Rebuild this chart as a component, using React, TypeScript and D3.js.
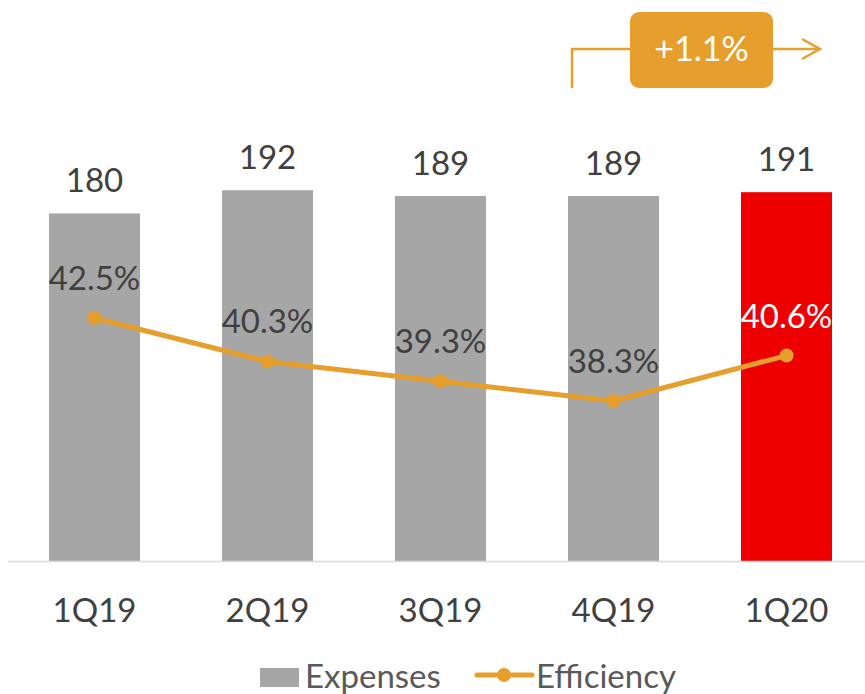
import React from "react";
import * as d3 from "d3";

const categories = ["1Q19", "2Q19", "3Q19", "4Q19", "1Q20"];
const expenses = [180, 192, 189, 189, 191];
const efficiency = [42.5, 40.3, 39.3, 38.3, 40.6];
const expenseLabels = ["180", "192", "189", "189", "191"];
const efficiencyLabels = ["42.5%", "40.3%", "39.3%", "38.3%", "40.6%"];
const highlightIndex = 4;
const changeLabel = "+1.1%";
const legendLabels = ["Expenses", "Efficiency"];

const W = 865;
const H = 694;
const FONT = "Lato, 'Open Sans', sans-serif";
const GRAY = "#A6A6A6";
const RED = "#EE0000";
const ORANGE = "#E69F2C";
const TEXT = "#404040";

export default function App() {
  const x = d3
    .scaleBand<string>()
    .domain(categories)
    .range([8, 873])
    .paddingInner(0.474)
    .paddingOuter(0.237);
  const baseY = 561;
  const y = d3.scaleLinear().domain([0, 250]).range([baseY, baseY - 250 * 1.931]);
  const y2 = d3
    .scaleLinear()
    .domain([30, 45])
    .range([318 + 12.5 * 19.76, 318 - 2.5 * 19.76]);

  const cx = (c: string) => (x(c) as number) + x.bandwidth() / 2;
  const line = d3
    .line<number>()
    .x((_, i) => cx(categories[i]))
    .y((d) => y2(d));

  return (
    <svg
      width={W}
      height={H}
      style={{ position: "absolute", left: 0, top: 0, background: "#fff" }}
      fontFamily={FONT}
    >
      {/* bars */}
      {categories.map((c, i) => (
        <rect
          key={c}
          x={x(c)}
          y={y(expenses[i])}
          width={x.bandwidth()}
          height={baseY - y(expenses[i])}
          fill={i === highlightIndex ? RED : GRAY}
        />
      ))}
      {/* axis line */}
      <line x1={8} x2={W} y1={baseY + 0.5} y2={baseY + 0.5} stroke="#D9D9D9" strokeWidth={1.5} />
      {/* bar labels */}
      {categories.map((c, i) => (
        <text
          key={"bl" + c}
          x={cx(c)}
          y={y(expenses[i]) - 21}
          textAnchor="middle"
          fontSize={33}
          fill={TEXT}
        >
          {expenseLabels[i]}
        </text>
      ))}
      {/* category labels */}
      {categories.map((c) => (
        <text key={"cl" + c} x={cx(c)} y={622} textAnchor="middle" fontSize={33} fill={TEXT}>
          {c}
        </text>
      ))}
      {/* efficiency line */}
      <path d={line(efficiency) || ""} fill="none" stroke={ORANGE} strokeWidth={5} strokeLinejoin="round" />
      {efficiency.map((v, i) => (
        <circle key={"pt" + i} cx={cx(categories[i])} cy={y2(v)} r={7} fill={ORANGE} />
      ))}
      {efficiency.map((v, i) => (
        <text
          key={"el" + i}
          x={cx(categories[i])}
          y={y2(v) - 28}
          textAnchor="middle"
          fontSize={33}
          fill={i === highlightIndex ? "#FFFFFF" : TEXT}
        >
          {efficiencyLabels[i]}
        </text>
      ))}
      {/* change annotation */}
      <path d="M572,88 V49 H630" fill="none" stroke={ORANGE} strokeWidth={2.5} />
      <path d="M773,49 H819" fill="none" stroke={ORANGE} strokeWidth={2.5} />
      <path d="M802,39 L820,49 L802,59" fill="none" stroke={ORANGE} strokeWidth={2.5} />
      <rect x={630} y={12} width={143} height={76} rx={9} fill={ORANGE} />
      <text x={701.5} y={61} textAnchor="middle" fontSize={34} fill="#FFFFFF">
        {changeLabel}
      </text>
      {/* legend */}
      <rect x={260} y={668} width={39} height={19} fill={GRAY} />
      <text x={305} y={688} fontSize={33} fill="#595959">
        {legendLabels[0]}
      </text>
      <line x1={477} x2={532} y1={675} y2={675} stroke={ORANGE} strokeWidth={5} strokeLinecap="round" />
      <circle cx={504} cy={675} r={7} fill={ORANGE} />
      <text x={536} y={688} fontSize={33} fill="#595959">
        {legendLabels[1]}
      </text>
    </svg>
  );
}
